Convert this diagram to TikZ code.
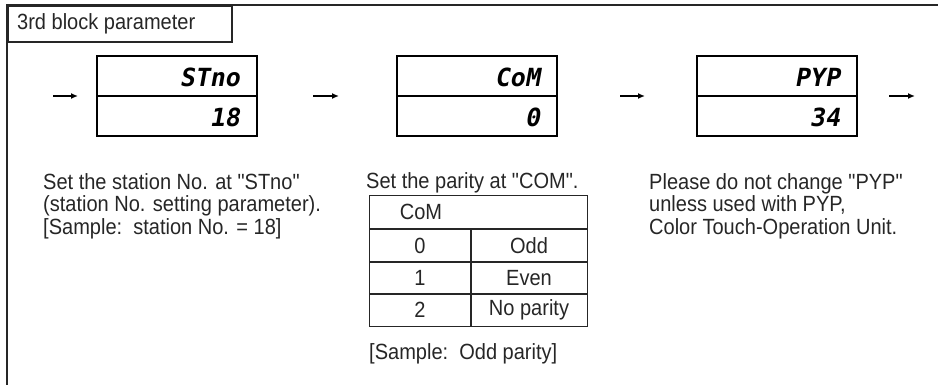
\documentclass[tikz,border=0pt]{standalone}
\usepackage{fontspec}
\setmainfont{Liberation Sans}[FakeStretch=0.91,Ligatures=TeXOff]
\newfontfamily\segfont{DejaVu Sans Mono}[FakeSlant=0.18]
\newcommand\qq{\symbol{34}}
\usetikzlibrary{arrows.meta}
\begin{document}
\begin{tikzpicture}[x=1pt,y=-1pt,
  frame/.style={draw=black!85, line width=1.6pt},
  txt/.style={font=\fontsize{22}{22.6}\selectfont, text=black!85, inner sep=0pt, align=left},
  disp/.style={draw=black, line width=1.3pt, minimum width=160pt, minimum height=80pt, inner sep=0pt},
  seg/.style={font=\segfont\bfseries\fontsize{25}{25}\selectfont, inner sep=0pt, anchor=east},
  flow/.style={line width=1.4pt, -{Latex[length=7pt,width=6pt]}},
  tbl/.style={draw=black!85, line width=1.2pt},
  cell/.style={font=\fontsize{22}{22.6}\selectfont, text=black!85, inner sep=0pt}
]
\useasboundingbox (0,0) rectangle (938,385);
% outer frame
\coordinate (ftr) at (938,5);
\coordinate (ftl) at (7,5);
\coordinate (fbl) at (7,385);
\draw[frame] (ftr) -- (ftl) -- (fbl);
% title
\node[frame, draw, anchor=north west, minimum width=224pt, minimum height=36pt, inner sep=0pt] (title) at (7,5) {};
\node[txt, anchor=west] (titletext) at (17,24) {3rd block parameter};
% displays
\node[disp] (d1) at (177,96) {};
\draw[line width=1.3pt] (d1.west) -- (d1.east);
\node[seg] (d1a) at (240,77) {STno};
\node[seg] (d1b) at (240,117) {18};
\node[disp] (d2) at (477,96) {};
\draw[line width=1.3pt] (d2.west) -- (d2.east);
\node[seg] (d2a) at (540,77) {CoM};
\node[seg] (d2b) at (540,117) {0};
\node[disp] (d3) at (777,96) {};
\draw[line width=1.3pt] (d3.west) -- (d3.east);
\node[seg] (d3a) at (840,77) {PYP};
\node[seg] (d3b) at (840,117) {34};
% arrows
\coordinate (a1s) at (53,96); \coordinate (a1e) at (78,96);
\coordinate (a2s) at (313,96); \coordinate (a2e) at (339,96);
\coordinate (a3s) at (620,96); \coordinate (a3e) at (645,96);
\coordinate (a4s) at (889,96); \coordinate (a4e) at (915,96);
\draw[flow] (a1s) -- (a1e);
\draw[flow] (a2s) -- (a2e);
\draw[flow] (a3s) -- (a3e);
\draw[flow] (a4s) -- (a4e);
% texts
\node[txt, anchor=north west] (t1) at (43,173) {Set the station No. at \qq STno\qq\\(station No. setting parameter).\\{}[Sample:\ \ station No. = 18]};
\node[txt, anchor=north west] (t2) at (366,172) {Set the parity at \qq COM\qq.};
\node[txt, anchor=north west] (t3) at (649,173) {Please do not change \qq PYP\qq\\unless used with PYP,\\Color Touch-Operation Unit.};
\node[txt, anchor=north west] (t4) at (369,343) {[Sample:\ \ Odd parity]};
% table
\node[tbl, anchor=north west, minimum width=218pt, minimum height=131pt, inner sep=0pt] (tab) at (369,195) {};
\coordinate (r1l) at (369,229); \coordinate (r1r) at (587,229);
\coordinate (r2l) at (369,262); \coordinate (r2r) at (587,262);
\coordinate (r3l) at (369,294); \coordinate (r3r) at (587,294);
\coordinate (vt) at (471,229); \coordinate (vb) at (471,326);
\draw[tbl] (r1l) -- (r1r) (r2l) -- (r2r) (r3l) -- (r3r) (vt) -- (vb);
\node[cell] (h) at (421,212) {CoM};
\node[cell] (c0) at (420,246) {0};
\node[cell] (c1) at (420,278) {1};
\node[cell] (c2) at (420,310) {2};
\node[cell] (v0) at (529,246) {Odd};
\node[cell] (v1) at (529,278) {Even};
\node[cell] (v2) at (529,310) {No parity};
\end{tikzpicture}
\end{document}
